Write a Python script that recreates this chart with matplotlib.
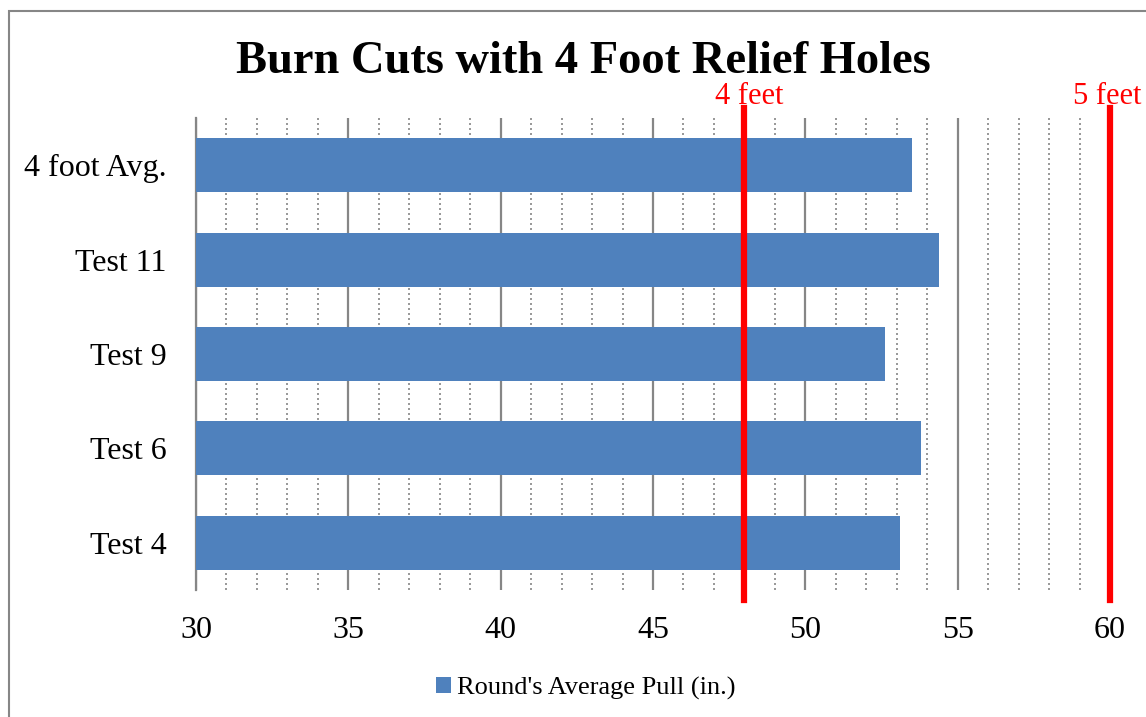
import matplotlib.pyplot as plt
from matplotlib.patches import Rectangle
import numpy as np

tests = ['Test 4', 'Test 6', 'Test 9', 'Test 11', '4 foot Avg.']
pull = [53.1, 53.8, 52.6, 54.4, 53.5]
marks = [48, 60]
mark_labels = ['4 feet', '5 feet']

plt.rcParams['font.family'] = ['Liberation Serif', 'DejaVu Serif']

fig = plt.figure(figsize=(11.46, 7.17), dpi=100)
W, H = 1146, 717
ax = fig.add_axes([196 / W, 1 - 590 / H, (1110 - 196) / W, (590 - 118) / H])

# outer chart border
fig.patches.append(Rectangle((9 / W, -0.05), 1.2, 1 - 11 / H + 0.05, transform=fig.transFigure,
                             fill=False, edgecolor='#868686', linewidth=1.5))

y = np.arange(len(tests))
ax.barh(y, pull, height=0.57, color='#4f81bd', label="Round's Average Pull (in.)", zorder=3)

ax.set_xlim(30, 60)
ax.set_ylim(-0.5, len(tests) - 0.5)
ax.set_xticks(np.arange(30, 61, 5))
ax.set_xticks([v for v in range(31, 60) if v % 5], minor=True)
ax.set_yticks(y)
ax.set_yticklabels(tests)
ax.tick_params(axis='both', which='both', length=0, labelsize=23)
ax.tick_params(axis='x', pad=19)
ax.tick_params(axis='y', pad=21)

ax.grid(axis='x', which='major', color='#868686', linewidth=1.6, zorder=1)
ax.grid(axis='x', which='minor', color='#868686', linewidth=1.2, linestyle=(0, (1.2, 1.8)), zorder=1)
ax.grid(axis='y', visible=False)
for s in ['top', 'right', 'bottom']:
    ax.spines[s].set_visible(False)
ax.spines['left'].set_color('#868686')
ax.spines['left'].set_linewidth(1.6)

# red reference lines, labels nudged so the right one stays inside the figure
for xm, lab, dx in zip(marks, mark_labels, [0.15, -0.1]):
    ax.axvline(xm, ymin=-0.021, ymax=1.021, color='red', linewidth=4.5, zorder=4, clip_on=False)
    ax.text(xm + dx, 1 + 14 / 472, lab, transform=ax.get_xaxis_transform(), color='red',
            fontsize=22, ha='center', va='baseline')

fig.text(583 / W, 1 - 73 / H, 'Burn Cuts with 4 Foot Relief Holes', fontsize=33.5,
         fontweight='bold', ha='center', va='baseline')

fig.legend(loc='center', bbox_to_anchor=(586 / W, 1 - 688 / H), frameon=False,
           fontsize=19, handlelength=0.55, handleheight=0.55, handletextpad=0.25)

fig.savefig('out.png', dpi=100)
